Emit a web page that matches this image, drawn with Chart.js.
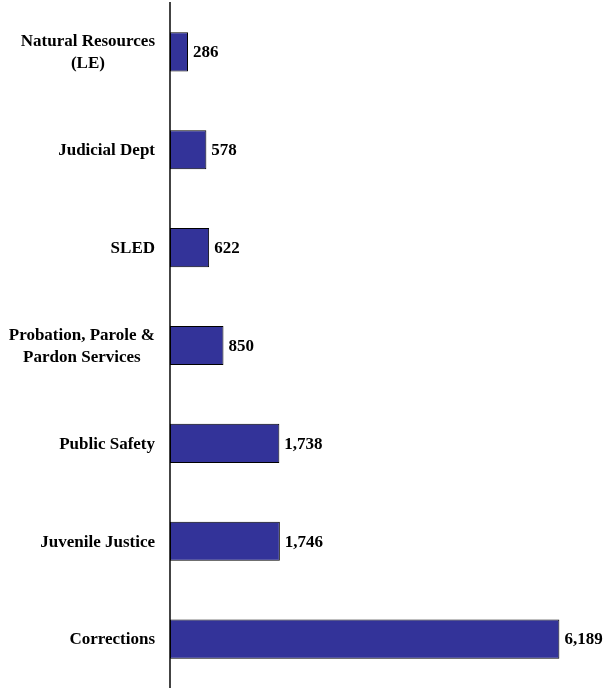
<!DOCTYPE html>
<html>
<head>
<meta charset="utf-8">
<script src="https://cdn.jsdelivr.net/npm/chart.js@4/dist/chart.umd.min.js"></script>
<style>
  html, body { margin: 0; padding: 0; background: #fff; }
  #wrap { width: 606px; height: 688px; }
</style>
</head>
<body>
<div id="wrap"><canvas id="grafica" width="606" height="688"></canvas></div>
<script>
const categorias = [
  ['Natural Resources', '(LE)'],
  ['Judicial Dept'],
  ['SLED'],
  ['Probation, Parole &', 'Pardon Services'],
  ['Public Safety'],
  ['Juvenile Justice'],
  ['Corrections']
]
const valores = [286, 578, 622, 850, 1738, 1746, 6189]

const fuente = 'bold 17px "Liberation Serif", "Times New Roman", serif'

// etiquetas de categoria (bloque alineado a la derecha, lineas centradas)
const etiquetasPlugin = {
  id: 'etiquetas',
  afterDraw(chart) {
    const ctx = chart.ctx
    const y = chart.scales.y
    const x = chart.scales.x
    ctx.save()
    ctx.font = fuente
    ctx.fillStyle = '#000'
    ctx.textBaseline = 'middle'
    ctx.textAlign = 'center'
    categorias.forEach((lineas, i) => {
      const cy = y.getPixelForValue(i) + 1
      const ancho = Math.max(...lineas.map(l => ctx.measureText(l).width))
      const cx = 155 - ancho / 2
      const alto = 22
      const y0 = cy - (lineas.length - 1) * alto / 2
      lineas.forEach((l, j) => ctx.fillText(l, cx, y0 + j * alto))
    })
    // valores al final de cada barra
    ctx.textAlign = 'left'
    valores.forEach((v, i) => {
      ctx.fillText(v.toLocaleString('en-US'), x.getPixelForValue(v) + 5, y.getPixelForValue(i) + 1)
    })
    ctx.restore()
  }
}

new Chart(document.getElementById('grafica'), {
  type: 'bar',
  data: {
    labels: categorias.map(c => c.join(' ')),
    datasets: [{
      data: valores,
      backgroundColor: '#333399',
      borderColor: '#000',
      borderWidth: 1,
      borderSkipped: false,
      barPercentage: 0.4,
      categoryPercentage: 1
    }]
  },
  options: {
    indexAxis: 'y',
    responsive: false,
    animation: false,
    layout: { padding: { top: 3, bottom: 0, left: 0, right: 0 } },
    plugins: { legend: { display: false }, tooltip: { enabled: false } },
    scales: {
      x: { display: false, min: 0, max: 6930 },
      y: {
        grid: { display: false, drawTicks: false },
        border: { display: true, color: '#444', width: 2 },
        ticks: { display: false },
        afterFit: s => { s.width = 170 }
      }
    }
  },
  plugins: [etiquetasPlugin]
})
</script>
</body>
</html>
